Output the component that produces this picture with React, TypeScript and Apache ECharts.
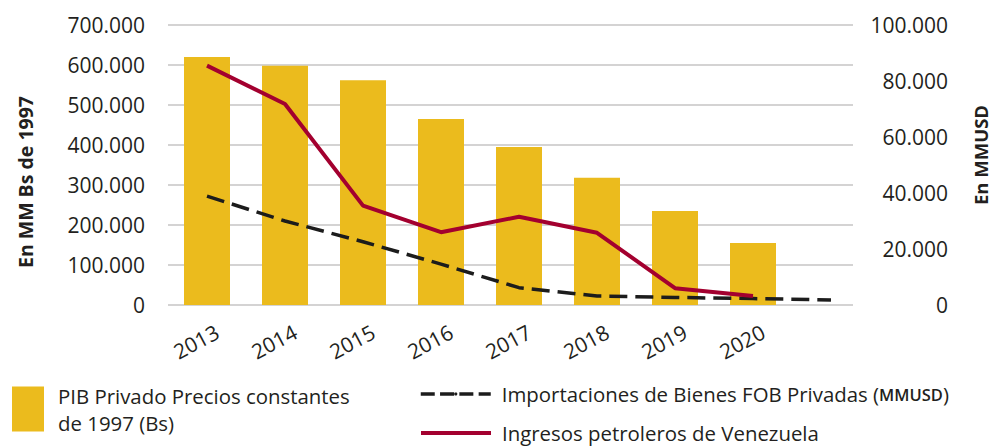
import React, { useEffect, useRef } from "react";
import * as echarts from "echarts";

const categories = ["2013", "2014", "2015", "2016", "2017", "2018", "2019", "2020", ""];
const pibPrivado = [620000, 598000, 562000, 465000, 395000, 318000, 235000, 155000, null];
const importaciones = [38900, 30000, 22600, 14600, 6200, 3200, 2700, 2300, 1800];
const ingresosPetroleros = [85500, 71800, 35500, 26000, 31500, 25800, 6000, 3200, null];
const leftTicks = { min: 0, max: 700000, interval: 100000 };
const rightTicks = { min: 0, max: 100000, interval: 20000 };

const FONT = "'Open Sans', 'Noto Sans', sans-serif";
const TXT = "#231f20";
const W = 500;
const LEG = 20.4;
const fmt = (v: number) => String(v).replace(/\B(?=(\d{3})+(?!\d))/g, ".");

export default function App() {
  const ref = useRef<HTMLDivElement>(null);
  useEffect(() => {
    document.body.style.margin = "0";
    const chart = echarts.init(ref.current!, null, { renderer: "svg" });
    chart.setOption({
      animation: false,
      textStyle: { fontFamily: FONT, color: TXT },
      grid: [
        { left: 168, top: 25, width: 702, height: 280 },
        { left: 168, top: 25, width: 685, height: 280 },
      ],
      xAxis: [
        {
          type: "category",
          gridIndex: 0,
          data: categories,
          axisLine: { show: false },
          axisTick: { show: false },
          axisLabel: {
            rotate: 28,
            fontSize: 21,
            fontWeight: W,
            color: TXT,
            fontFamily: FONT,
            margin: 6,
            verticalAlign: "top",
            lineHeight: 44,
          },
        },
        { type: "value", gridIndex: 1, show: false, min: 0, max: 1 },
      ],
      yAxis: [
        {
          type: "value",
          gridIndex: 0,
          position: "left",
          ...leftTicks,
          splitLine: { show: false },
          axisLine: { show: false },
          axisTick: { show: false },
          axisLabel: { fontSize: 21, fontWeight: W, color: TXT, fontFamily: FONT, margin: 23, formatter: fmt },
        },
        {
          type: "value",
          gridIndex: 0,
          position: "right",
          ...rightTicks,
          splitLine: { show: false },
          axisLine: { show: false },
          axisTick: { show: false },
          axisLabel: {
            fontSize: 21,
            fontWeight: W,
            color: TXT,
            fontFamily: FONT,
            align: "right",
            margin: 78,
            formatter: fmt,
          },
        },
        {
          type: "value",
          gridIndex: 1,
          ...leftTicks,
          axisLine: { show: false },
          axisTick: { show: false },
          axisLabel: { show: false },
          splitLine: { lineStyle: { color: "#c6c4c4", width: 1.5 } },
        },
      ],
      legend: [
        {
          left: 12,
          top: 382,
          padding: 0,
          itemWidth: 32,
          itemHeight: 45,
          icon: "rect",
          data: ["PIB"],
          formatter: () => "PIB Privado Precios constantes\nde 1997 (Bs)",
          textStyle: { fontSize: LEG, fontWeight: W, color: TXT, fontFamily: FONT, lineHeight: 27, padding: [0, 0, 0, 9] },
        },
        {
          left: 419,
          top: 384,
          padding: 0,
          itemWidth: 70,
          itemHeight: 4,
          data: ["Importaciones"],
          lineStyle: { type: [14, 5.3], width: 3.5 },
          formatter: () => "Importaciones de Bienes FOB Privadas ({sc|MMUSD})",
          textStyle: {
            fontSize: LEG,
            fontWeight: W,
            color: TXT,
            fontFamily: FONT,
            padding: [0, 0, 0, 6],
            rich: { sc: { fontSize: 16.5, color: TXT, fontFamily: FONT, fontWeight: 600 } },
          },
        },
        {
          left: 419,
          top: 421,
          padding: 0,
          itemWidth: 70,
          itemHeight: 4,
          data: ["Ingresos"],
          lineStyle: { width: 4 },
          formatter: () => "Ingresos petroleros de Venezuela",
          textStyle: { fontSize: LEG, fontWeight: W, color: TXT, fontFamily: FONT, padding: [0, 0, 0, 6], lineHeight: 24 },
        },
      ],
      graphic: [
        {
          type: "text",
          x: 25,
          y: 182,
          rotation: Math.PI / 2,
          style: {
            text: "En MM Bs de 1997",
            fontSize: 19.5,
            fontWeight: "bold",
            fontFamily: FONT,
            fill: TXT,
            align: "center",
            verticalAlign: "middle",
          },
        },
        {
          type: "text",
          x: 980,
          y: 155,
          rotation: Math.PI / 2,
          style: {
            text: "En MMUSD",
            fontSize: 18.5,
            fontWeight: "bold",
            fontFamily: FONT,
            fill: TXT,
            align: "center",
            verticalAlign: "middle",
          },
        },
      ],
      series: [
        {
          name: "PIB",
          type: "bar",
          xAxisIndex: 0,
          yAxisIndex: 0,
          data: pibPrivado,
          barWidth: 46,
          itemStyle: { color: "#ebbb1d" },
        },
        {
          name: "Importaciones",
          type: "line",
          xAxisIndex: 0,
          yAxisIndex: 1,
          data: importaciones,
          symbol: "none",
          lineStyle: { color: "#1c1c1c", width: 3.5, type: [18, 8] },
          itemStyle: { color: "#1c1c1c" },
        },
        {
          name: "Ingresos",
          type: "line",
          xAxisIndex: 0,
          yAxisIndex: 1,
          data: ingresosPetroleros,
          symbol: "none",
          lineStyle: { color: "#a3002f", width: 4 },
          itemStyle: { color: "#a3002f" },
        },
      ],
    });
    return () => chart.dispose();
  }, []);
  return <div ref={ref} style={{ width: 994, height: 447 }} />;
}
